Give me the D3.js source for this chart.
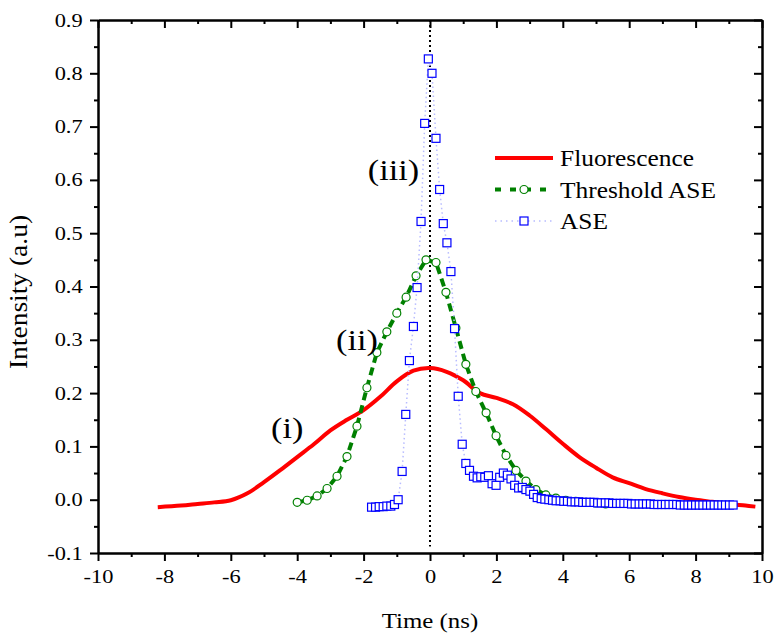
<!DOCTYPE html>
<html>
<head>
<meta charset="utf-8">
<style>
  body { margin: 0; background: #fff; }
  svg text { font-family: "Liberation Serif", "Times New Roman", serif; fill: #000; }
</style>
</head>
<body>
<div id="chart"></div>
<script src="https://d3js.org/d3.v7.min.js"></script>
<script>
// values
var fluoX = [-8.2,-7.5,-7,-6.5,-6,-5.5,-5,-4.5,-4,-3.5,-3,-2.5,-2,-1.5,-1,-0.5,0,0.5,1,1.5,2,2.5,3,3.5,4,4.5,5,5.5,6,6.5,7,7.5,8,8.5,9,9.5,9.8];
var fluoY = [-0.014,-0.011,-0.008,-0.005,-0.001,0.012,0.033,0.056,0.08,0.104,0.13,0.15,0.168,0.193,0.222,0.242,0.247,0.24,0.224,0.2,0.191,0.179,0.158,0.132,0.105,0.08,0.06,0.042,0.031,0.02,0.012,0.005,0,-0.004,-0.008,-0.011,-0.013];

var threshX = [-4.0,-3.7,-3.4,-3.1,-2.8,-2.5,-2.2,-1.9,-1.6,-1.3,-1.0,-0.72,-0.42,-0.12,0.18,0.48,0.78,1.08,1.38,1.69,1.99,2.29,2.59,2.89,3.19,3.49,3.79,4.09,4.39,4.69,4.99,5.29];
var threshY = [-0.005,-0.001,0.007,0.021,0.044,0.081,0.138,0.21,0.276,0.315,0.35,0.38,0.42,0.45,0.445,0.389,0.322,0.254,0.203,0.163,0.12,0.083,0.055,0.035,0.019,0.009,0.003,-0.001,-0.003,-0.005,-0.006,-0.008];

var aseX = [-1.76,-1.64,-1.53,-1.41,-1.3,-1.18,-1.07,-0.96,-0.84,-0.73,-0.62,-0.5,-0.39,-0.27,-0.16,-0.05,0.06,0.18,0.29,0.4,0.51,0.63,0.74,0.85,0.97,1.08,1.19,1.31,1.42,1.53,1.65,1.76,1.87,1.99,2.1,2.21,2.33,2.44,2.55,2.67,2.78,2.89,3.01,3.12,3.23,3.35,3.46,3.58,3.69,3.8,3.92,4.03,4.14,4.26,4.37,4.48,4.6,4.71,4.82,4.94,5.05,5.16,5.28,5.39,5.5,5.62,5.73,5.84,5.96,6.07,6.18,6.3,6.41,6.52,6.64,6.75,6.86,6.98,7.09,7.2,7.32,7.43,7.54,7.66,7.77,7.88,8.0,8.11,8.22,8.34,8.45,8.56,8.68,8.79,8.9,9.02,9.13];
var aseY = [-0.014,-0.014,-0.013,-0.013,-0.012,-0.012,-0.009,0.0,0.053,0.16,0.261,0.325,0.398,0.522,0.706,0.827,0.8,0.678,0.582,0.518,0.482,0.428,0.321,0.194,0.104,0.068,0.055,0.044,0.041,0.043,0.042,0.045,0.03,0.027,0.042,0.05,0.046,0.039,0.027,0.022,0.023,0.019,0.016,0.01,0.004,0.002,0.001,0.0,-0.001,-0.002,-0.002,-0.003,-0.003,-0.004,-0.004,-0.004,-0.005,-0.005,-0.005,-0.005,-0.006,-0.006,-0.006,-0.006,-0.007,-0.007,-0.007,-0.007,-0.007,-0.008,-0.008,-0.008,-0.008,-0.008,-0.008,-0.009,-0.009,-0.009,-0.009,-0.009,-0.009,-0.009,-0.01,-0.01,-0.01,-0.01,-0.01,-0.01,-0.01,-0.01,-0.01,-0.01,-0.01,-0.01,-0.01,-0.01,-0.01];

var xTicks = [-10,-8,-6,-4,-2,0,2,4,6,8,10];
var xMinor = [-9,-7,-5,-3,-1,1,3,5,7,9];
var yTicks = [-0.1,0,0.1,0.2,0.3,0.4,0.5,0.6,0.7,0.8,0.9];
var yMinor = [-0.05,0.05,0.15,0.25,0.35,0.45,0.55,0.65,0.75,0.85];

var seriesNames = ["Fluorescence", "Threshold ASE", "ASE"];
var peakLabels = [{t: "(i)", x: -4.3, y: 0.115}, {t: "(ii)", x: -2.2, y: 0.28}, {t: "(iii)", x: -1.1, y: 0.6}];

var W = 774, H = 635;
var margin = {top: 20, right: 12, bottom: 82, left: 98};
var width = W - margin.left - margin.right;
var height = H - margin.top - margin.bottom;

var svg = d3.select("#chart").append("svg")
    .attr("width", W)
    .attr("height", H);
var g = svg.append("g").attr("transform", "translate(" + margin.left + "," + margin.top + ")");

var x = d3.scaleLinear().domain([-10, 10]).range([0, width]);
var y = d3.scaleLinear().domain([-0.1, 0.9]).range([height, 0]);

function zip(xs, ys) { return xs.map(function(v, i) { return [v, ys[i]]; }); }
var fluo = zip(fluoX, fluoY), thresh = zip(threshX, threshY), ase = zip(aseX, aseY);

var line = d3.line().x(function(d) { return x(d[0]); }).y(function(d) { return y(d[1]); });

// text that is a bit wider than plain Times, like the original
function wideText(parent, px, py, str, size, sx, anchor, rot) {
  var t = parent.append("g")
      .attr("transform", "translate(" + px + "," + py + ")" + (rot ? " rotate(" + rot + ")" : "") + " scale(" + sx + ",1)");
  t.append("text")
      .attr("text-anchor", anchor || "start")
      .style("font-size", size + "px")
      .text(str);
  return t;
}

// dotted zero line
g.append("line")
    .attr("x1", x(0)).attr("x2", x(0))
    .attr("y1", y(0.9)).attr("y2", y(-0.088))
    .attr("stroke", "#000").attr("stroke-width", 2)
    .attr("stroke-dasharray", "2,3");

// fluorescence
g.append("path").datum(fluo)
    .attr("d", line.curve(d3.curveCatmullRom))
    .attr("fill", "none").attr("stroke", "#ff0000").attr("stroke-width", 4);

// threshold ASE
g.append("path").datum(thresh)
    .attr("d", line.curve(d3.curveLinear))
    .attr("fill", "none").attr("stroke", "#008000").attr("stroke-width", 4)
    .attr("stroke-dasharray", "8,5");
g.selectAll(".circ").data(thresh).enter().append("circle")
    .attr("cx", function(d) { return x(d[0]); })
    .attr("cy", function(d) { return y(d[1]); })
    .attr("r", 4)
    .attr("fill", "#fff").attr("stroke", "#008000").attr("stroke-width", 1.2);

// ASE
g.append("path").datum(ase)
    .attr("d", line.curve(d3.curveLinear))
    .attr("fill", "none").attr("stroke", "#b8bcff").attr("stroke-width", 1.5)
    .attr("stroke-dasharray", "1.5,3");
var sq = 8;
g.selectAll(".sq").data(ase).enter().append("rect")
    .attr("x", function(d) { return x(d[0]) - sq / 2; })
    .attr("y", function(d) { return y(d[1]) - sq / 2; })
    .attr("width", sq).attr("height", sq)
    .attr("fill", "#fff").attr("stroke", "#0000ff").attr("stroke-width", 1.2);

// axes
var tickStretch = 1.18;
function styleAxis(sel) {
  sel.select(".domain").attr("stroke-width", 2);
  sel.selectAll(".tick line").attr("stroke-width", 2);
  sel.selectAll("text")
      .style("font-family", "Liberation Serif")
      .style("font-size", "19px")
      .attr("transform", "scale(" + tickStretch + ",1)");
}
var hyphen = function(f) { return function(d) { return f(d).replace("\u2212", "-"); }; };

g.append("g").attr("transform", "translate(0," + height + ")")
    .call(d3.axisBottom(x).tickValues(xTicks).tickSize(8).tickPadding(9).tickSizeOuter(0)
      .tickFormat(hyphen(d3.format("d"))))
    .call(styleAxis);
g.append("g").attr("transform", "translate(0," + height + ")")
    .call(d3.axisBottom(x).tickValues(xMinor).tickSize(4).tickFormat("").tickSizeOuter(0))
    .call(styleAxis);
g.append("g")
    .call(d3.axisTop(x).tickValues(xTicks).tickSize(-8).tickFormat("").tickSizeOuter(0))
    .call(styleAxis);
g.append("g")
    .call(d3.axisTop(x).tickValues(xMinor).tickSize(-4).tickFormat("").tickSizeOuter(0))
    .call(styleAxis);

g.append("g")
    .call(d3.axisLeft(y).tickValues(yTicks).tickSize(8).tickPadding(5).tickSizeOuter(0)
      .tickFormat(hyphen(d3.format(".1f"))))
    .call(styleAxis);
g.append("g")
    .call(d3.axisLeft(y).tickValues(yMinor).tickSize(4).tickFormat("").tickSizeOuter(0))
    .call(styleAxis);
g.append("g").attr("transform", "translate(" + width + ",0)")
    .call(d3.axisRight(y).tickValues(yTicks).tickSize(-8).tickFormat("").tickSizeOuter(0))
    .call(styleAxis);
g.append("g").attr("transform", "translate(" + width + ",0)")
    .call(d3.axisRight(y).tickValues(yMinor).tickSize(-4).tickFormat("").tickSizeOuter(0))
    .call(styleAxis);

// axis titles
wideText(svg, margin.left + width / 2, 628, "Time (ns)", 22, 1.13, "middle");
wideText(svg, 27, 292, "Intensity (a.u)", 25, 1.1, "middle", -90);

// peak labels
peakLabels.forEach(function(d) {
  wideText(g, x(d.x), y(d.y), d.t, 29, 1.18, "middle");
});

// legend
var lx = 495, ly = 158, lstep = 31.5;
var legend = svg.append("g");
legend.append("line").attr("x1", lx).attr("x2", lx + 58).attr("y1", ly).attr("y2", ly)
    .attr("stroke", "#ff0000").attr("stroke-width", 4);
legend.append("line").attr("x1", lx).attr("x2", lx + 58).attr("y1", ly + lstep).attr("y2", ly + lstep)
    .attr("stroke", "#008000").attr("stroke-width", 4).attr("stroke-dasharray", "6,9");
legend.append("circle").attr("cx", lx + 29).attr("cy", ly + lstep).attr("r", 4)
    .attr("fill", "#fff").attr("stroke", "#008000").attr("stroke-width", 1.2);
legend.append("line").attr("x1", lx).attr("x2", lx + 58).attr("y1", ly + 2 * lstep).attr("y2", ly + 2 * lstep)
    .attr("stroke", "#b8bcff").attr("stroke-width", 1.5).attr("stroke-dasharray", "1.5,4");
legend.append("rect").attr("x", lx + 25).attr("y", ly + 2 * lstep - 4).attr("width", 8).attr("height", 8)
    .attr("fill", "#fff").attr("stroke", "#0000ff").attr("stroke-width", 1.2);
seriesNames.forEach(function(d, i) {
  wideText(legend, lx + 65, ly + i * lstep + 8, d, 22.5, 1.13, "start");
});
</script>
</body>
</html>
